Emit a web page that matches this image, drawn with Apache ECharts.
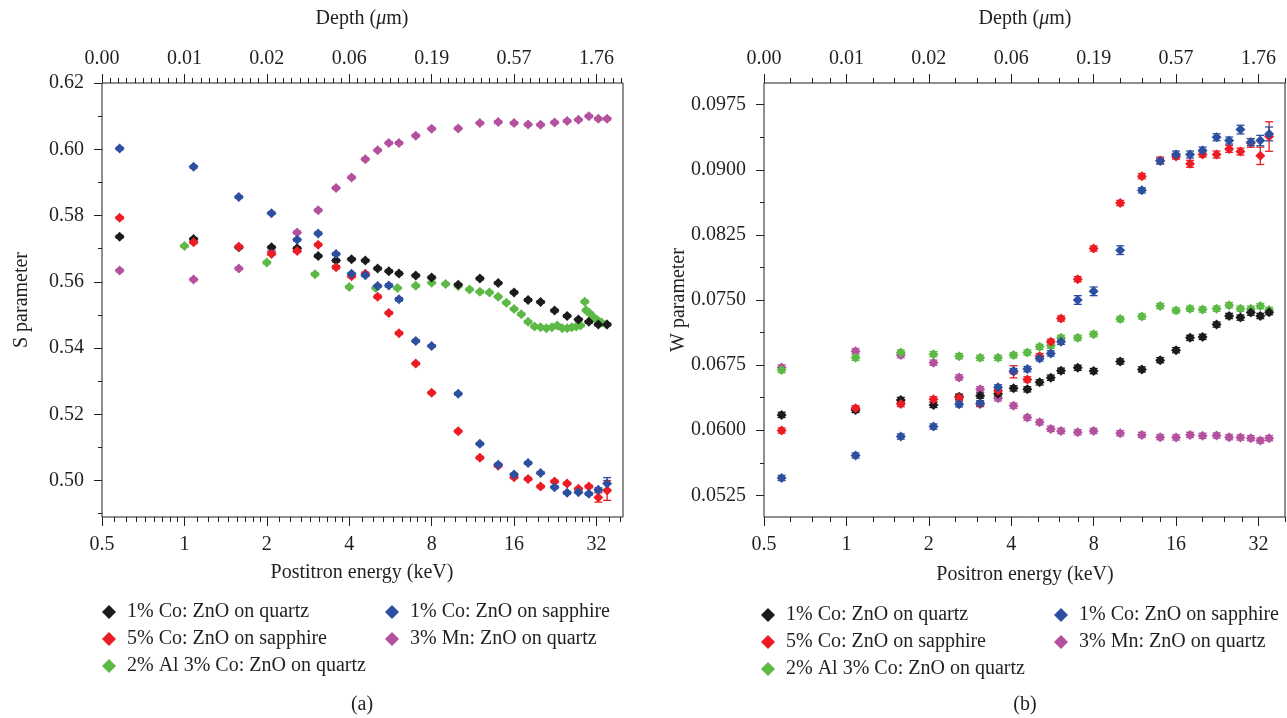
<!DOCTYPE html>
<html>
<head>
<meta charset="utf-8">
<script src="https://cdn.jsdelivr.net/npm/echarts@6/dist/echarts.min.js"></script>
<style>html,body{margin:0;padding:0;background:#fff}#c{width:1287px;height:718px}</style>
</head>
<body>
<div id="c"></div>
<script>
// ---------- data ----------
const energies = [0.58, 1.08, 1.58, 2.08, 2.58, 3.08, 3.58, 4.08, 4.58, 5.08, 5.58, 6.08, 7, 8, 10, 12, 14, 16, 18, 20, 22.5, 25, 27.5, 30, 32.5, 35];
const energyTickLabels = ['0.5', '1', '2', '4', '8', '16', '32'];
const depthLabels = ['0.00', '0.01', '0.02', '0.06', '0.19', '0.57', '1.76'];

const seriesNames = ['1% Co: ZnO on quartz', '5% Co: ZnO on sapphire', '2% Al 3% Co: ZnO on quartz', '1% Co: ZnO on sapphire', '3% Mn: ZnO on quartz'];

// panel (a): S parameter
const sTickLabels = [0.50, 0.52, 0.54, 0.56, 0.58, 0.60, 0.62];
const sMinorTicks = [0.49, 0.51, 0.53, 0.55, 0.57, 0.59, 0.61];
const aBlack = [0.5736, 0.5729, 0.5704, 0.5704, 0.5701, 0.5678, 0.5664, 0.5668, 0.5664, 0.5640, 0.5632, 0.5625, 0.5619, 0.5613, 0.5591, 0.5610, 0.5596, 0.5568, 0.5545, 0.5539, 0.5513, 0.5497, 0.5486, 0.5479, 0.5471, 0.5471];
const aRed = [0.5793, 0.5719, 0.5706, 0.5684, 0.5693, 0.5712, 0.5644, 0.5617, 0.5624, 0.5555, 0.5506, 0.5445, 0.5353, 0.5265, 0.5149, 0.5069, 0.5045, 0.5010, 0.5005, 0.4982, 0.4997, 0.4991, 0.4975, 0.4982, 0.4949, 0.4970];
const aRedErr = [0.0004, 0.0004, 0.0004, 0.0004, 0.0004, 0.0004, 0.0005, 0.0005, 0.0005, 0.0005, 0.0004, 0.0004, 0.0004, 0.0004, 0.0004, 0.0004, 0.0004, 0.0004, 0.0004, 0.0004, 0.0004, 0.0004, 0.0004, 0.0004, 0.0014, 0.0030];
const aBlue = [0.6002, 0.5947, 0.5856, 0.5807, 0.5727, 0.5746, 0.5684, 0.5624, 0.5620, 0.5587, 0.5589, 0.5547, 0.5421, 0.5406, 0.5262, 0.5111, 0.5048, 0.5018, 0.5053, 0.5023, 0.4980, 0.4963, 0.4965, 0.4960, 0.4972, 0.4991];
const aBlueErr = [0.0004, 0.0004, 0.0004, 0.0004, 0.0004, 0.0004, 0.0004, 0.0004, 0.0004, 0.0004, 0.0005, 0.0005, 0.0004, 0.0004, 0.0004, 0.0004, 0.0004, 0.0004, 0.0004, 0.0004, 0.0004, 0.0004, 0.0004, 0.0004, 0.0006, 0.0018];
const aMagenta = [0.5634, 0.5607, 0.5640, 0.5690, 0.5749, 0.5816, 0.5883, 0.5915, 0.5970, 0.5997, 0.6019, 0.6019, 0.6041, 0.6062, 0.6063, 0.6079, 0.6082, 0.6079, 0.6075, 0.6074, 0.6081, 0.6085, 0.6089, 0.6100, 0.6092, 0.6092];
const aGreenE = [1, 2, 3, 4, 5, 6, 7, 8, 9, 10, 11, 12, 13, 14, 15, 16, 17, 18, 19, 20, 21, 22, 23, 24, 25, 26, 27, 28, 29, 29.3, 30.3, 31.3, 32.3, 33.4, 34.8];
const aGreen = [0.5708, 0.5658, 0.5623, 0.5584, 0.5581, 0.5581, 0.5588, 0.5597, 0.5593, 0.5587, 0.5577, 0.5570, 0.5568, 0.5555, 0.5537, 0.5518, 0.5502, 0.5479, 0.5465, 0.5463, 0.5460, 0.5463, 0.5468, 0.5460, 0.5460, 0.5463, 0.5465, 0.5468, 0.5540, 0.5514, 0.5504, 0.5492, 0.5484, 0.5477, 0.5471];

// panel (b): W parameter
const wTickLabels = [0.0525, 0.0600, 0.0675, 0.0750, 0.0825, 0.0900, 0.0975];
const wMinorTicks = [0.05625, 0.06375, 0.07125, 0.07875, 0.08625, 0.09375];
const bBlack = [0.06176, 0.06233, 0.06348, 0.06291, 0.06386, 0.06398, 0.06420, 0.06482, 0.06471, 0.06551, 0.06605, 0.06685, 0.06719, 0.06681, 0.06792, 0.06700, 0.06807, 0.06922, 0.07064, 0.07075, 0.07217, 0.07316, 0.07297, 0.07355, 0.07316, 0.07360];
const bRed = [0.05996, 0.06253, 0.06302, 0.06356, 0.06375, 0.06302, 0.06455, 0.06673, 0.06585, 0.06853, 0.07018, 0.07286, 0.07740, 0.08093, 0.08617, 0.08927, 0.09107, 0.09153, 0.09069, 0.09176, 0.09176, 0.09241, 0.09210, 0.09310, 0.09161, 0.09383];
const bRedErr = [0.0003, 0.0003, 0.0003, 0.0003, 0.0003, 0.0003, 0.0003, 0.0007, 0.0003, 0.0003, 0.0003, 0.0003, 0.0003, 0.0003, 0.0003, 0.0003, 0.0004, 0.0003, 0.0004, 0.0003, 0.0004, 0.0004, 0.0004, 0.0005, 0.0010, 0.0017];
const bBlue = [0.05449, 0.05709, 0.05927, 0.06042, 0.06298, 0.06310, 0.06494, 0.06681, 0.06704, 0.06827, 0.06884, 0.07018, 0.07500, 0.07600, 0.08074, 0.08763, 0.09100, 0.09176, 0.09176, 0.09222, 0.09375, 0.09337, 0.09463, 0.09318, 0.09337, 0.09413];
const bBlueErr = [0.0003, 0.0003, 0.0003, 0.0003, 0.0003, 0.0003, 0.0003, 0.0003, 0.0003, 0.0003, 0.0003, 0.0003, 0.0005, 0.0005, 0.0005, 0.0003, 0.0003, 0.0004, 0.0004, 0.0004, 0.0004, 0.0004, 0.0005, 0.0004, 0.0006, 0.0008];
const bMagenta = [0.06723, 0.06911, 0.06865, 0.06777, 0.06608, 0.06471, 0.06367, 0.06283, 0.06145, 0.06092, 0.06015, 0.05992, 0.05977, 0.05992, 0.05965, 0.05946, 0.05920, 0.05916, 0.05946, 0.05935, 0.05939, 0.05920, 0.05916, 0.05908, 0.05881, 0.05908];
const bGreen = [0.06693, 0.06834, 0.06895, 0.06876, 0.06853, 0.06834, 0.06834, 0.06865, 0.06895, 0.06960, 0.06972, 0.07064, 0.07064, 0.07106, 0.07280, 0.07310, 0.07430, 0.07380, 0.07400, 0.07390, 0.07400, 0.07440, 0.07400, 0.07400, 0.07430, 0.07385];

// ---------- styling ----------
const FONT = 'Liberation Serif';
const INK = '#231f20';
const colors = ['#1b1b1b', '#ec1c24', '#5cb946', '#2d4fa0', '#b4519f'];
const X_MIN = 0.5, X_MAX = 40;
const L2MIN = Math.log2(X_MIN), L2MAX = Math.log2(X_MAX);

// minor tick positions (in log2 energy units) for the decorative tick axes
function ninthsTicks() { const r = []; for (let k = -1; k <= 5; k++) for (let j = 1; j <= 8; j++) { const v = k + Math.log2(1 + j / 9); if (v < L2MAX) r.push(v); } return r; }
function tenthsTicks() { const r = []; for (let k = -1; k <= 5; k++) for (let j = 1; j <= 9; j++) { const v = k + j / 10; if (v < L2MAX) r.push(v); } return r; }
function quarterTicks() { const r = []; for (let k = -1; k <= 5; k++) for (let j = 1; j <= 3; j++) { const v = k + Math.log2(1 + j / 4); if (v <= L2MAX + 1e-9) r.push(v); } r.push(L2MAX); return r; }

const grids = [
  { left: 102, top: 83, width: 521, height: 434, show: true, borderColor: INK, borderWidth: 1, backgroundColor: 'transparent' },
  { left: 764, top: 83, width: 521, height: 434, show: true, borderColor: INK, borderWidth: 1, backgroundColor: 'transparent' }
];

const lbl = { fontFamily: FONT, fontSize: 20, color: INK };
const noLine = { show: false, onZero: false };

function xAxesFor(gi, bottomMinor, topMinor) {
  return [
    { type: 'log', logBase: 2, gridIndex: gi, position: 'bottom', min: X_MIN, max: X_MAX,
      axisLine: noLine, splitLine: { show: false },
      axisTick: { show: true, length: 9, lineStyle: { color: INK, width: 1 } },
      axisLabel: Object.assign({ margin: 18, showMaxLabel: false, showMinLabel: true,
        formatter: v => energyTickLabels[Math.round(Math.log2(v / X_MIN))] || '' }, lbl) },
    { type: 'log', logBase: 2, gridIndex: gi, position: 'top', min: X_MIN, max: X_MAX,
      axisLine: noLine, splitLine: { show: false },
      axisTick: { show: true, length: 9, lineStyle: { color: INK, width: 1 } },
      axisLabel: Object.assign({ margin: 14, showMaxLabel: false, showMinLabel: true,
        formatter: v => depthLabels[Math.round(Math.log2(v / X_MIN))] || '' }, lbl) },
    { type: 'value', gridIndex: gi, position: 'bottom', min: L2MIN, max: L2MAX,
      axisLine: noLine, splitLine: { show: false }, axisLabel: { show: false },
      axisTick: { show: true, length: 5, customValues: bottomMinor, lineStyle: { color: INK, width: 1 } } },
    { type: 'value', gridIndex: gi, position: 'top', min: L2MIN, max: L2MAX,
      axisLine: noLine, splitLine: { show: false }, axisLabel: { show: false },
      axisTick: { show: true, length: 5, customValues: topMinor, lineStyle: { color: INK, width: 1 } } }
  ];
}

function yAxesFor(gi, min, max, majors, minors, digits) {
  return [
    { type: 'value', gridIndex: gi, position: 'left', min: min, max: max,
      axisLine: noLine, splitLine: { show: false },
      axisTick: { show: true, length: 8, customValues: majors, lineStyle: { color: INK, width: 1 } },
      axisLabel: Object.assign({ margin: 18, customValues: majors, formatter: v => Number(v).toFixed(digits) }, lbl) },
    { type: 'value', gridIndex: gi, position: 'left', min: min, max: max,
      axisLine: noLine, splitLine: { show: false }, axisLabel: { show: false },
      axisTick: { show: true, length: 4, customValues: minors, lineStyle: { color: INK, width: 1 } } }
  ];
}

function errRender(color) {
  return function (params, api) {
    const x = api.value(0), y = api.value(1), e = api.value(2);
    const p1 = api.coord([x, y + e]), p2 = api.coord([x, y - e]);
    const hw = 4;
    const st = { stroke: color, lineWidth: 1.3 };
    return { type: 'group', children: [
      { type: 'line', shape: { x1: p1[0], y1: p1[1], x2: p2[0], y2: p2[1] }, style: st },
      { type: 'line', shape: { x1: p1[0] - hw, y1: p1[1], x2: p1[0] + hw, y2: p1[1] }, style: st },
      { type: 'line', shape: { x1: p2[0] - hw, y1: p2[1], x2: p2[0] + hw, y2: p2[1] }, style: st }
    ] };
  };
}

function pair(xs, ys, errs, def) {
  return xs.map((x, i) => [x, ys[i], errs ? errs[i] : def]);
}

function panelSeries(gi, sets, defErr) {
  const out = [];
  sets.forEach(s => {
    const data = pair(s.x, s.y, s.err, defErr);
    out.push({ type: 'custom', name: s.name + ' (err)', xAxisIndex: gi * 4, yAxisIndex: gi * 2,
      renderItem: errRender(s.color), encode: { x: 0, y: 1 }, data: data, z: 2, silent: true });
    out.push({ type: 'scatter', name: s.name, xAxisIndex: gi * 4, yAxisIndex: gi * 2,
      symbol: 'diamond', symbolSize: 10, itemStyle: { color: s.color, opacity: 1 },
      data: data.map(d => [d[0], d[1]]), z: 3, silent: true });
  });
  return out;
}

const setsA = [
  { name: seriesNames[2], color: colors[2], x: aGreenE, y: aGreen },
  { name: seriesNames[4], color: colors[4], x: energies, y: aMagenta },
  { name: seriesNames[0], color: colors[0], x: energies, y: aBlack },
  { name: seriesNames[1], color: colors[1], x: energies, y: aRed, err: aRedErr },
  { name: seriesNames[3], color: colors[3], x: energies, y: aBlue, err: aBlueErr }
];
const setsB = [
  { name: seriesNames[4], color: colors[4], x: energies, y: bMagenta },
  { name: seriesNames[2], color: colors[2], x: energies, y: bGreen },
  { name: seriesNames[0], color: colors[0], x: energies, y: bBlack },
  { name: seriesNames[1], color: colors[1], x: energies, y: bRed, err: bRedErr },
  { name: seriesNames[3], color: colors[3], x: energies, y: bBlue, err: bBlueErr }
];

function legendCol(left, top, names) {
  return { orient: 'vertical', left: left, top: top, padding: 0, itemGap: 7,
    itemWidth: 14, itemHeight: 14, icon: 'diamond', selectedMode: false,
    textStyle: { fontFamily: FONT, fontSize: 20, color: INK, lineHeight: 20, padding: [0, 0, 0, 6] },
    data: names };
}

function txt(x, y, text, extra) {
  return Object.assign({ type: 'text', x: x, y: y, silent: true,
    style: { text: text, fill: INK, fontFamily: FONT, fontSize: 20,
      align: 'center', verticalAlign: 'middle', textAlign: 'center', textVerticalAlign: 'middle',
      rich: { i: { fontStyle: 'italic', fontFamily: FONT, fontSize: 20, fill: INK } } } }, extra || {});
}

const option = {
  animation: false,
  backgroundColor: '#ffffff',
  textStyle: { fontFamily: FONT },
  grid: grids,
  xAxis: [].concat(xAxesFor(0, ninthsTicks(), tenthsTicks()), xAxesFor(1, quarterTicks(), quarterTicks())),
  yAxis: [].concat(yAxesFor(0, 0.489, 0.62, sTickLabels, sMinorTicks, 2), yAxesFor(1, 0.05, 0.10, wTickLabels, wMinorTicks, 4)),
  legend: [
    legendCol(102, 602, [seriesNames[0], seriesNames[1], seriesNames[2]]),
    legendCol(385, 602, [seriesNames[3], seriesNames[4]]),
    legendCol(761, 605, [seriesNames[0], seriesNames[1], seriesNames[2]]),
    legendCol(1054, 605, [seriesNames[3], seriesNames[4]])
  ],
  graphic: [
    txt(362, 19, 'Depth ({i|μ}m)'),
    txt(1025, 19, 'Depth ({i|μ}m)'),
    txt(362, 573, 'Postitron energy (keV)'),
    txt(1025, 575, 'Positron energy (keV)'),
    txt(22, 300, 'S parameter', { rotation: Math.PI / 2 }),
    txt(679, 300, 'W parameter', { rotation: Math.PI / 2 }),
    txt(362, 705, '(a)'),
    txt(1025, 705, '(b)')
  ],
  series: [].concat(panelSeries(0, setsA, 0.0004), panelSeries(1, setsB, 0.0003))
};

const chart = echarts.init(document.getElementById('c'), null, { renderer: 'canvas' });
chart.setOption(option);
</script>
</body>
</html>
